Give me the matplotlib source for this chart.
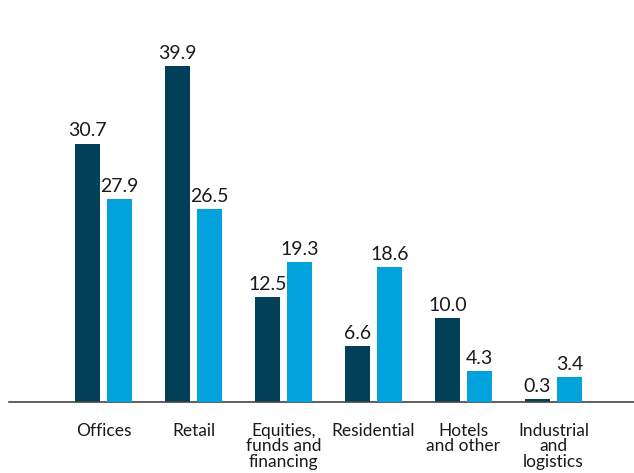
import numpy as np
import matplotlib.pyplot as plt

categories = ['Offices', 'Retail', 'Equities,\nfunds and\nfinancing', 'Residential',
              'Hotels\nand other', 'Industrial\nand\nlogistics']
series_a = [30.7, 39.9, 12.5, 6.6, 10.0, 0.3]
series_b = [27.9, 26.5, 19.3, 18.6, 4.3, 3.4]

dark = '#02405a'
light = '#02a2dc'
text_col = '#1a1a1a'

plt.rcParams['font.family'] = ['Lato', 'DejaVu Sans']

fig = plt.figure(figsize=(6.34, 4.73), dpi=100)
ax = fig.add_axes([0, 71 / 473, 1, 402 / 473])
ax2 = ax.twinx()

x = np.arange(len(categories))
w = 0.278
off = 0.178
bars_a = ax.bar(x - off, series_a, w, color=dark)
bars_b = ax2.bar(x + off, series_b, w, color=light)

# the two series sit on different vertical scales
ax.set_ylim(0, 402 / 8.42)
ax2.set_ylim(0, 402 / 7.27)

for a, bars, vals in ((ax, bars_a, series_a), (ax2, bars_b, series_b)):
    for b, v in zip(bars, vals):
        a.annotate('%.1f' % v, (b.get_x() + b.get_width() / 2, v),
                   xytext=(0, 3), textcoords='offset points',
                   ha='center', va='bottom', fontsize=14, color=text_col)

ax.set_xlim(-103.5 / 90, (634 - 103.5) / 90)

for a in (ax, ax2):
    for s in ['top', 'right', 'left']:
        a.spines[s].set_visible(False)
    a.set_yticks([])
ax2.spines['bottom'].set_visible(False)
ax.spines['bottom'].set_color('#444444')
ax.spines['bottom'].set_linewidth(1.2)
ax.spines['bottom'].set_bounds((9 - 103.5) / 90, (634 - 103.5) / 90)
ax.set_xticks(x)
ax.set_xticklabels(categories, fontsize=12.5, color=text_col, linespacing=0.95)
ax.tick_params(axis='x', length=0, pad=15)

fig.savefig('out.png', dpi=100)
